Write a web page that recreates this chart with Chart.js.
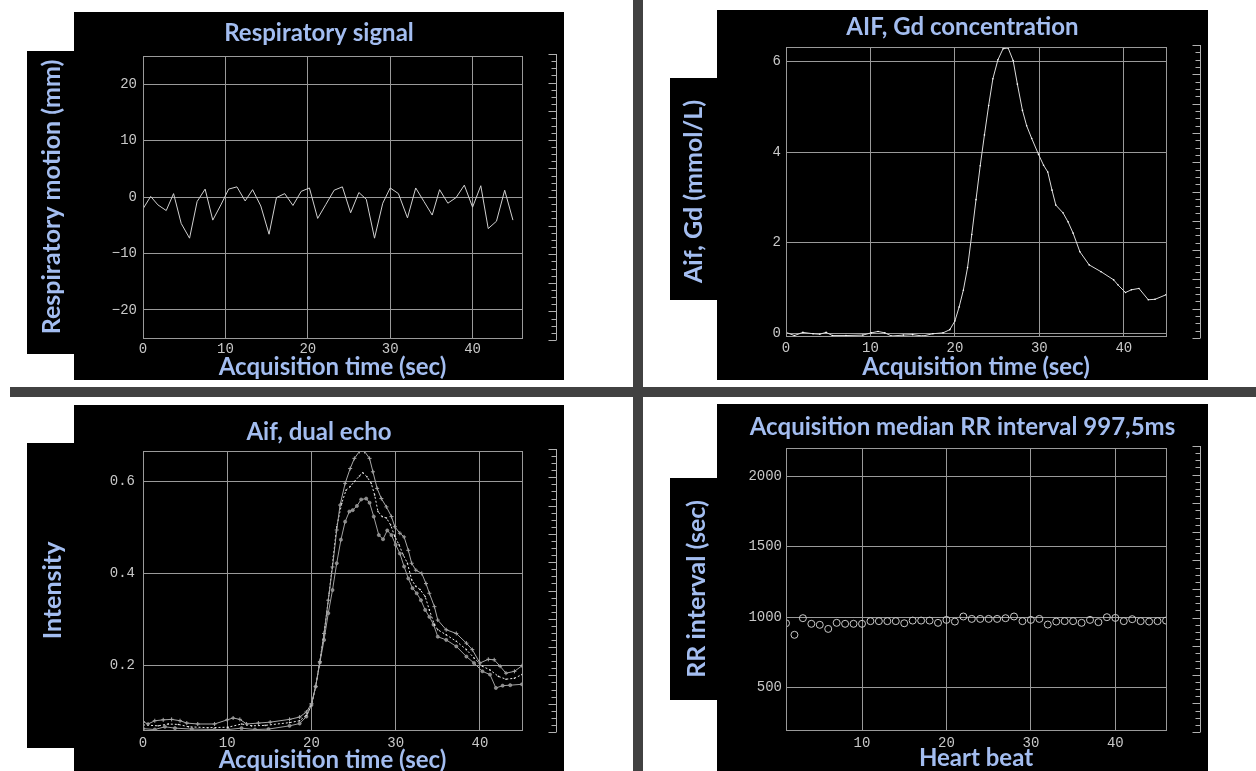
<!DOCTYPE html>
<html><head><meta charset="utf-8">
<script src="https://cdn.jsdelivr.net/npm/chart.js@4.4.1/dist/chart.umd.min.js"></script>
<style>
html,body{margin:0;padding:0;background:#fff;}
body{width:1256px;height:771px;position:relative;overflow:hidden;}
.blk{position:absolute;background:#000;}
.bar{position:absolute;background:#414141;}
canvas{position:absolute;}
</style></head><body>
<div class="bar" style="left:633px;top:0;width:10px;height:771px"></div>
<div class="bar" style="left:10px;top:387px;width:1246px;height:10px"></div>
<div class="blk" style="left:74px;top:12px;width:490px;height:368px"></div>
<div class="blk" style="left:27px;top:51px;width:47px;height:303px"></div>
<div class="blk" style="left:717px;top:10px;width:491px;height:370px"></div>
<div class="blk" style="left:670px;top:78px;width:47px;height:222px"></div>
<div class="blk" style="left:74px;top:405px;width:490px;height:366px"></div>
<div class="blk" style="left:27px;top:443px;width:47px;height:305px"></div>
<div class="blk" style="left:717px;top:404px;width:491px;height:367px"></div>
<div class="blk" style="left:670px;top:478px;width:47px;height:222px"></div>
<canvas id="c1" width="584" height="371" style="left:27px;top:10px"></canvas>
<canvas id="c2" width="585" height="371" style="left:670px;top:10px"></canvas>
<canvas id="c3" width="584" height="371" style="left:27px;top:400px"></canvas>
<canvas id="c4" width="585" height="371" style="left:670px;top:400px"></canvas>
<script>
// ---------- data ----------
const respTime = [0,0.93,1.81,2.82,3.71,4.64,5.65,6.57,7.54,8.47,9.45,10.4,11.4,12.4,13.3,14.3,15.3,16.2,17.2,18.2,19.2,20.2,21.2,22.2,23.2,24.2,25.2,26.2,27.1,28.1,29.1,30.0,31.0,32.1,33.1,34.1,35.1,36.0,37.0,38.0,39.0,40.0,41.0,41.9,42.9,43.9,44.9];
const respMotion = [-2.1,0.1,-1.4,-2.4,0.6,-4.7,-7.3,-0.8,1.4,-4.1,-1.4,1.4,1.8,-0.7,1.3,-1.6,-6.6,-0.1,0.6,-1.5,1.0,1.6,-3.8,-1.3,1.2,1.8,-2.8,0.8,-0.4,-7.3,-1.1,1.6,0.6,-3.7,1.6,-0.8,-3.2,1.3,-1.1,-0.1,2.1,-1.8,2.0,-5.6,-4.3,1.2,-4.1];

const gdTime = [0,1.0,2.0,3.2,4.0,4.75,5.5,7.1,9.1,10.1,10.9,11.7,12.5,13.9,15.0,16.2,17.4,18.6,19.4,20.0,20.5,21.0,21.5,22.0,22.5,23.0,23.5,24.0,24.5,25.1,25.7,26.3,26.9,27.4,28.0,28.5,29.1,29.9,30.5,31.0,31.5,31.95,32.8,33.4,34.0,34.8,35.9,37.3,38.8,39.3,40.2,40.9,41.8,42.9,43.7,45.0];
const gdConc = [0.02,-0.05,0.02,-0.01,-0.02,0.02,-0.05,-0.05,-0.04,0.01,0.04,0.01,-0.06,-0.04,-0.03,-0.06,-0.01,0.01,0.08,0.27,0.58,0.95,1.45,2.18,2.95,3.70,4.38,5.03,5.62,6.04,6.28,6.30,6.02,5.50,4.92,4.58,4.30,3.95,3.71,3.56,3.16,2.83,2.66,2.46,2.21,1.80,1.51,1.36,1.18,1.07,0.90,0.96,0.99,0.74,0.75,0.85];

const echoTimeA = [0,0.6,1.4,2.4,3.4,4.4,5.2,6.5,8.5,10.0,10.7,11.5,12.3,13.7,15.1,17.4,18.6,19.4,20.0,20.5,21.0,21.5,22.0,22.5,23.0,23.4,24.0,24.6,25.1,25.7,26.3,26.9,27.3,27.8,28.3,28.9,29.5,29.9,30.5,31.0,31.5,31.9,32.4,33.1,33.6,34.0,34.6,35.0,36.0,37.2,38.4,39.1,40.0,41.0,41.7,42.4,43.1,44.1,45.0];
const echoA = [0.079,0.074,0.081,0.083,0.084,0.081,0.076,0.074,0.074,0.083,0.087,0.084,0.074,0.076,0.078,0.084,0.089,0.100,0.118,0.155,0.209,0.270,0.342,0.414,0.494,0.548,0.595,0.627,0.649,0.664,0.664,0.649,0.620,0.584,0.562,0.544,0.523,0.501,0.487,0.479,0.450,0.422,0.407,0.400,0.378,0.357,0.328,0.299,0.278,0.270,0.249,0.235,0.206,0.214,0.213,0.199,0.184,0.188,0.200];
const echoTimeB = [0,1.8,3.0,4.2,5.4,7.7,10.1,11.7,12.9,14.5,17.4,18.6,19.4,20.0,20.5,21.0,21.6,22.1,22.6,23.0,23.6,24.1,24.6,25.1,25.7,26.1,26.6,27.1,27.5,27.9,28.4,28.9,29.4,29.9,30.4,30.9,31.4,31.9,32.4,32.9,33.5,34.0,34.6,35.0,36.0,37.2,38.4,39.3,40.3,41.2,42.2,43.1,44.1,45.0];
const echoB = [0.072,0.070,0.074,0.073,0.068,0.066,0.067,0.074,0.070,0.071,0.077,0.081,0.093,0.115,0.155,0.209,0.284,0.357,0.436,0.501,0.552,0.580,0.588,0.599,0.611,0.618,0.609,0.595,0.570,0.534,0.523,0.520,0.505,0.480,0.462,0.440,0.422,0.386,0.372,0.365,0.350,0.321,0.289,0.278,0.267,0.253,0.235,0.217,0.199,0.191,0.177,0.171,0.173,0.181];
const echoTimeC = [0,1.4,2.6,3.8,5.8,8.5,10.1,11.7,13.3,14.9,17.4,18.6,19.4,20.0,20.5,21.0,21.5,22.0,22.5,23.0,23.5,24.0,24.5,24.9,25.4,25.9,26.5,26.9,27.4,28.0,28.5,29.0,29.5,30.0,30.5,31.0,31.5,32.0,32.5,33.0,33.5,34.0,34.5,35.0,36.0,37.2,38.4,39.3,40.3,41.2,41.9,42.7,43.6,45.0];
const echoC = [0.064,0.062,0.068,0.065,0.063,0.062,0.062,0.065,0.062,0.063,0.070,0.075,0.090,0.115,0.155,0.207,0.256,0.314,0.364,0.422,0.473,0.512,0.534,0.537,0.546,0.560,0.562,0.553,0.523,0.483,0.474,0.493,0.483,0.462,0.443,0.415,0.389,0.368,0.357,0.342,0.321,0.306,0.289,0.263,0.256,0.242,0.220,0.206,0.188,0.181,0.152,0.157,0.158,0.160];

const beats = [1,2,3,4,5,6,7,8,9,10,11,12,13,14,15,16,17,18,19,20,21,22,23,24,25,26,27,28,29,30,31,32,33,34,35,36,37,38,39,40,41,42,43,44,45,46];
const rrInterval = [957,875,993,953,946,917,960,953,953,953,972,972,972,972,957,976,976,976,960,981,969,1005,988,988,988,988,993,1005,972,981,988,948,969,972,972,960,981,965,1000,995,972,986,972,969,972,976];

const timeTicks = [0,10,20,30,40];
const beatTicks = [10,20,30,40];
const respTicks = [-20,-10,0,10,20];
const gdTicks = [0,2,4,6];
const intensityTicks = [0.2,0.4,0.6];
const rrTicks = [500,1000,1500,2000];

// ---------- styling ----------
const TITLE_COLOR = '#a3bdf0';
const GRID = '#9a9a9a';
const TICK = '#c8c8c8';
const TFONT = 'Lato';

const framePlugin = {
  id: 'frame',
  afterDraw(chart) {
    const {ctx, chartArea: a} = chart;
    ctx.save();
    ctx.strokeStyle = GRID; ctx.lineWidth = 1;
    ctx.strokeRect(Math.round(a.left) + 0.5, Math.round(a.top) + 0.5, Math.round(a.right - a.left), Math.round(a.bottom - a.top));
    const sx = Math.round(a.right + 34) + 0.5;
    const t = a.top - 2, b = a.bottom + 2;
    ctx.strokeStyle = '#b0b0b0';
    ctx.beginPath();
    ctx.moveTo(sx, t); ctx.lineTo(sx, b);
    const n = 40;
    for (let i = 0; i <= n; i++) {
      const y = Math.round(t + (b - t) * i / n) + 0.5;
      const len = (i % 4 === 0) ? 8 : 5;
      ctx.moveTo(sx - len, y); ctx.lineTo(sx, y);
    }
    ctx.stroke();
    ctx.restore();
  }
};

const fmt = v => String(v).replace('-', '\u2212');

function panel(id, g, datasets) {
  return new Chart(document.getElementById(id), {
    type: 'scatter',
    data: { datasets },
    plugins: [framePlugin],
    options: {
      responsive: false, animation: false, devicePixelRatio: 1,
      layout: { padding: 0 },
      plugins: {
        legend: { display: false }, tooltip: { enabled: false },
        title: { display: true, text: g.title, color: TITLE_COLOR,
          font: { family: TFONT, weight: 'bold', size: 24 },
          padding: { top: g.tpt, bottom: g.tpb } }
      },
      scales: {
        x: { type: 'linear', position: 'bottom', min: g.xmin, max: g.xmax,
          afterBuildTicks: s => { s.ticks = g.xticks.map(v => ({ value: v })); },
          afterFit: s => { s.height = g.xh; },
          grid: { color: GRID, drawTicks: false, lineWidth: 1 },
          border: { display: false },
          ticks: { color: TICK, font: { family: 'Liberation Mono', size: 14 }, padding: g.xpad, maxRotation: 0, autoSkip: false, callback: fmt },
          title: { display: true, text: g.xtitle, color: TITLE_COLOR,
            font: { family: TFONT, weight: 'bold', size: 24 }, padding: { top: 0, bottom: g.xtpb } } },
        y: { type: 'linear', position: 'left', min: g.ymin, max: g.ymax,
          afterBuildTicks: s => { s.ticks = g.yticks.map(v => ({ value: v })); },
          afterFit: s => { s.width = 116; },
          grid: { color: GRID, drawTicks: false, lineWidth: 1 },
          border: { display: false },
          ticks: { color: TICK, font: { family: 'Liberation Mono', size: 14 }, padding: g.ypad, autoSkip: false, callback: fmt },
          title: { display: true, text: g.ytitle, color: TITLE_COLOR,
            font: { family: TFONT, weight: 'bold', size: 25 }, padding: { top: g.ytpt, bottom: 0 } } },
        y2: { type: 'linear', position: 'right', display: true,
          grid: { display: false }, border: { display: false }, ticks: { display: false },
          afterFit: s => { s.width = g.rw; } }
      }
    }
  });
}

const pts = (xs, ys) => xs.map((x, i) => ({ x, y: ys[i] }));

panel('c1', { title: 'Respiratory signal', tpt: 8.6, tpb: 8.6,
  xmin: 0, xmax: 46, xticks: timeTicks, xh: 43, xpad: 2.6, xtitle: 'Acquisition time (sec)', xtpb: -0.4,
  ymin: -25, ymax: 25, yticks: respTicks, ypad: 6, ytitle: 'Respiratory motion (mm)', ytpt: 10, rw: 89 },
  [{ data: pts(respTime, respMotion), showLine: true, borderColor: '#d0d0d0', borderWidth: 1, pointRadius: 0, tension: 0 }]);

panel('c2', { title: 'AIF, Gd concentration', tpt: 2.6, tpb: 5.6,
  xmin: 0, xmax: 45, xticks: timeTicks, xh: 45, xpad: 3.6, xtitle: 'Acquisition time (sec)', xtpb: -0.4,
  ymin: -0.06, ymax: 6.32, yticks: gdTicks, ypad: 5, ytitle: 'Aif, Gd (mmol/L)', ytpt: 9, rw: 89 },
  [{ data: pts(gdTime, gdConc), showLine: true, borderColor: '#dcdcdc', borderWidth: 1, pointRadius: 0.8, pointBackgroundColor: '#ffffff', pointBorderWidth: 0, tension: 0 }]);

panel('c3', { title: 'Aif, dual echo', tpt: 17.6, tpb: 4.6,
  xmin: 0, xmax: 45, xticks: timeTicks, xh: 41, xpad: 4.6, xtitle: 'Acquisition time (sec)', xtpb: -3.4,
  ymin: 0.061, ymax: 0.665, yticks: intensityTicks, ypad: 8, ytitle: 'Intensity', ytpt: 11, rw: 89 },
  [
    { data: pts(echoTimeA, echoA), showLine: true, borderColor: '#a8a8a8', borderWidth: 1, pointStyle: 'cross', pointRadius: 2, pointBorderColor: '#a8a8a8', pointBorderWidth: 1, tension: 0 },
    { data: pts(echoTimeB, echoB), showLine: true, borderColor: '#e8e8e8', borderWidth: 1, borderDash: [2, 2], pointRadius: 0.8, pointBackgroundColor: '#e8e8e8', pointBorderWidth: 0, tension: 0 },
    { data: pts(echoTimeC, echoC), showLine: true, borderColor: '#a0a0a0', borderWidth: 1, pointStyle: 'circle', pointRadius: 1.6, pointBackgroundColor: '#8c8c8c', pointBorderColor: '#b0b0b0', pointBorderWidth: 0.5, tension: 0 }
  ]);

panel('c4', { title: 'Acquisition median RR interval 997,5ms', tpt: 12.6, tpb: 6.6,
  xmin: 1, xmax: 46, xticks: beatTicks, xh: 41, xpad: 4.6, xtitle: 'Heart beat', xtpb: -1.4,
  ymin: 200, ymax: 2200, yticks: rrTicks, ypad: 4, ytitle: 'RR interval (sec)', ytpt: 12, rw: 89 },
  [{ data: pts(beats, rrInterval), showLine: false, pointStyle: 'circle', pointRadius: 3.5, pointBackgroundColor: 'rgba(0,0,0,0)', pointBorderColor: '#c8c8c8', pointBorderWidth: 1 }]);
</script>
</body></html>
